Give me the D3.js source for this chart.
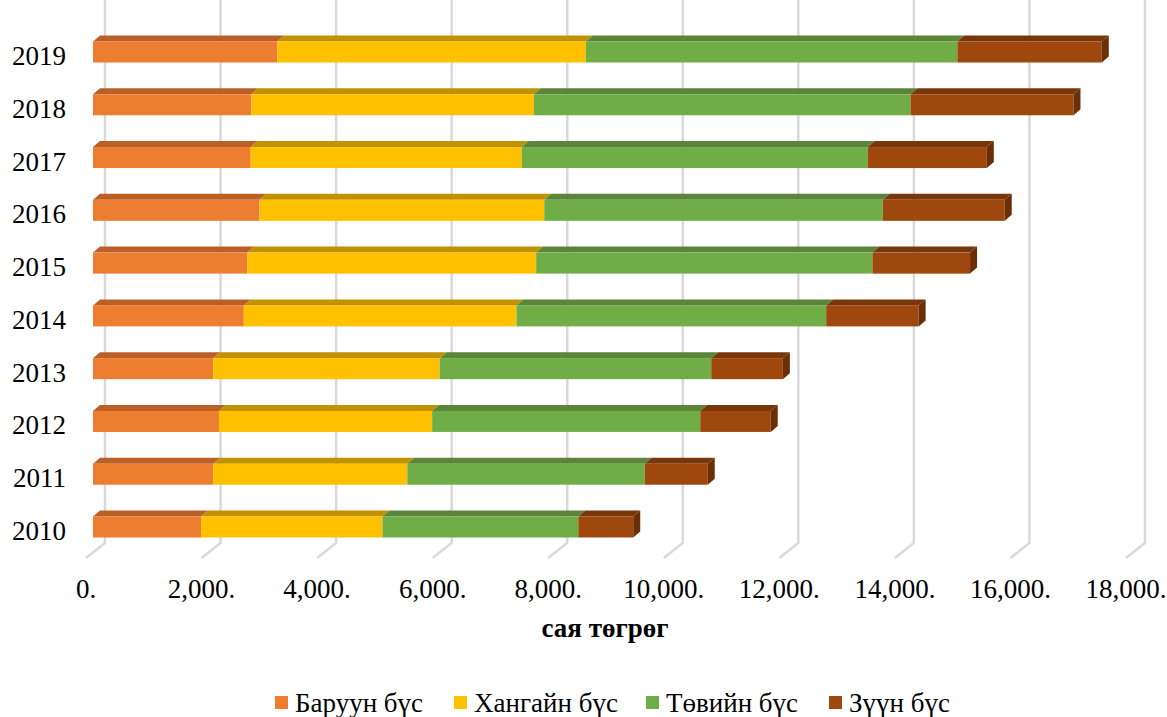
<!DOCTYPE html>
<html>
<head>
<meta charset="utf-8">
<script src="https://cdn.jsdelivr.net/npm/d3@7"></script>
<style>
  body { margin: 0; background: #fff; }
  text { font-family: "Liberation Serif", "Times New Roman", serif; fill: #000; }
</style>
</head>
<body>
<div id="chart"></div>
<script>
const width = 1167
const height = 717

// Data (сая төгрөг)
const years = ['2019', '2018', '2017', '2016', '2015', '2014', '2013', '2012', '2011', '2010']
const baruun = [3190, 2740, 2730, 2880, 2670, 2610, 2080, 2180, 2080, 1870]
const khangai = [5340, 4890, 4690, 4930, 5000, 4720, 3920, 3690, 3360, 3140]
const tuv = [6430, 6520, 5990, 5860, 5820, 5360, 4700, 4640, 4110, 3390]
const zuun = [2500, 2820, 2060, 2110, 1690, 1600, 1240, 1220, 1090, 950]
const seriesNames = ['Баруун бүс', 'Хангайн бүс', 'Төвийн бүс', 'Зүүн бүс']
const xTicks = [0, 2000, 4000, 6000, 8000, 10000, 12000, 14000, 16000, 18000]

const fronts = ['#ED7D31', '#FFC000', '#70AD47', '#9E480E']
const tops = ['#BA5F27', '#C29100', '#5A853A', '#7A360B']
const sideLast = '#6A2F09'

// table for stacking
const rows = years.map((y, i) => ({ year: y, s0: baruun[i], s1: khangai[i], s2: tuv[i], s3: zuun[i] }))
const stack = d3.stack().keys(['s0', 's1', 's2', 's3'])(rows)

const svg = d3.select('#chart').append('svg')
  .attr('width', width)
  .attr('height', height)

// back wall scale and bar plane (shifted toward the viewer)
const xWall = d3.scaleLinear().domain([0, 18000]).range([105, 1145])
const barShift = -12
const xBar = v => xWall(v) + barShift
const y = d3.scalePoint().domain(years).range([52, 527])
const barH = 21
const dx = 7, dy = -6      // bar depth
const wallBottom = 543
const floorDx = -19, floorDy = 15

// Gridlines on wall + floor
const grid = svg.append('g')
grid.selectAll('path')
  .data(xTicks)
  .enter().append('path')
  .attr('d', d => {
    const x = xWall(d)
    return `M${x},0 L${x},${wallBottom} L${x + floorDx},${wallBottom + floorDy}`
  })
  .attr('fill', 'none')
  .attr('stroke', '#D9D9D9')
  .attr('stroke-width', 2.5)

// Tick labels (front edge of floor)
svg.append('g').selectAll('text')
  .data(xTicks)
  .enter().append('text')
  .attr('x', d => xWall(d) + floorDx)
  .attr('y', 598)
  .attr('text-anchor', 'middle')
  .style('font-size', '27px')
  .text(d => d3.format(',')(d) + '.')

// Axis title
svg.append('text')
  .attr('x', 605)
  .attr('y', 637)
  .attr('text-anchor', 'middle')
  .style('font-size', '27px')
  .style('font-weight', 'bold')
  .text('сая төгрөг')

// Year labels
svg.append('g').selectAll('text')
  .data(years)
  .enter().append('text')
  .attr('x', 66)
  .attr('y', d => y(d) + 13)
  .attr('text-anchor', 'end')
  .style('font-size', '27px')
  .text(d => d)

// Bars
const bars = svg.append('g')
stack.forEach((layer, k) => {
  const g = bars.append('g')
  layer.forEach(seg => {
    const yt = y(seg.data.year) - barH / 2
    const x0 = xBar(seg[0]), x1 = xBar(seg[1])
    // top face
    g.append('path')
      .attr('d', `M${x0},${yt} L${x1},${yt} L${x1 + dx},${yt + dy} L${x0 + dx},${yt + dy} Z`)
      .attr('fill', tops[k])
    // front face
    g.append('rect')
      .attr('x', x0)
      .attr('y', yt)
      .attr('width', x1 - x0)
      .attr('height', barH)
      .attr('fill', fronts[k])
    // right side on last segment
    if (k === stack.length - 1) {
      g.append('path')
        .attr('d', `M${x1},${yt} L${x1 + dx},${yt + dy} L${x1 + dx},${yt + dy + barH} L${x1},${yt + barH} Z`)
        .attr('fill', sideLast)
    }
  })
})

// Legend
const legendX = [275, 454, 646, 829]
const legend = svg.append('g')
seriesNames.forEach((name, i) => {
  legend.append('rect')
    .attr('x', legendX[i])
    .attr('y', 696)
    .attr('width', 13)
    .attr('height', 13)
    .attr('fill', fronts[i])
  legend.append('text')
    .attr('x', legendX[i] + 20)
    .attr('y', 712)
    .style('font-size', '27px')
    .text(name)
})
</script>
</body>
</html>
